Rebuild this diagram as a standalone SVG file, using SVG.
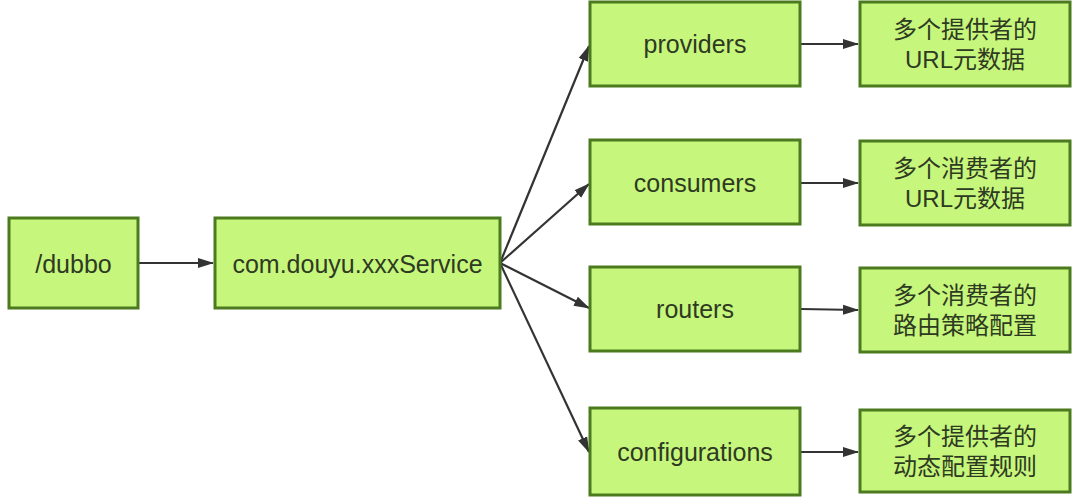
<svg xmlns="http://www.w3.org/2000/svg" width="1080" height="500" viewBox="0 0 1080 500">
<style>
.n rect{fill:#c7f67c;stroke:#4b7a1f;stroke-width:3}
.n text{font-family:"Liberation Sans","Noto Sans CJK SC",sans-serif;font-size:25px;fill:#2e3a22;text-anchor:middle;dominant-baseline:central}
.n text.zh{font-size:24px}
.c path{fill:none;stroke:#333;stroke-width:2.2}
</style>
<defs>
<marker id="ah" viewBox="0 0 16 12" refX="15" refY="6" markerWidth="16" markerHeight="12" markerUnits="userSpaceOnUse" orient="auto">
<path d="M0,1 L16,6 L0,11 z" fill="#333"/>
</marker>
</defs>
<rect width="1080" height="500" fill="#fff"/>
<g class="c">
<path d="M139,263 L213,263" marker-end="url(#ah)"/>
<path d="M500,263 L589,46" marker-end="url(#ah)"/>
<path d="M500,263 L589,184" marker-end="url(#ah)"/>
<path d="M500,263 L589,308" marker-end="url(#ah)"/>
<path d="M500,263 L589,452" marker-end="url(#ah)"/>
<path d="M801,44 L858,44" marker-end="url(#ah)"/>
<path d="M801,183 L858,183" marker-end="url(#ah)"/>
<path d="M801,309 L858,310" marker-end="url(#ah)"/>
<path d="M801,452 L858,452" marker-end="url(#ah)"/>
</g>
<g id="dubbo" class="n"><rect x="9" y="218" width="129" height="90"/><text x="73.5" y="264">/dubbo</text></g>
<g id="service" class="n"><rect x="215" y="218" width="285" height="90"/><text x="357.5" y="264">com.douyu.xxxService</text></g>
<g id="providers" class="n"><rect x="590" y="2" width="210" height="84"/><text x="695" y="44">providers</text></g>
<g id="consumers" class="n"><rect x="590" y="140" width="210" height="84"/><text x="695" y="183">consumers</text></g>
<g id="routers" class="n"><rect x="590" y="267" width="210" height="84"/><text x="695" y="309">routers</text></g>
<g id="configurations" class="n"><rect x="590" y="408" width="210" height="87"/><text x="695" y="452">configurations</text></g>
<g id="providers-desc" class="n"><rect x="860" y="2" width="210" height="84"/><text class="zh" x="965" y="29">多个提供者的</text><text class="zh" x="965" y="59">URL元数据</text></g>
<g id="consumers-desc" class="n"><rect x="860" y="141" width="210" height="84"/><text class="zh" x="965" y="168">多个消费者的</text><text class="zh" x="965" y="198">URL元数据</text></g>
<g id="routers-desc" class="n"><rect x="860" y="268" width="210" height="84"/><text class="zh" x="965" y="295">多个消费者的</text><text class="zh" x="965" y="325">路由策略配置</text></g>
<g id="configurations-desc" class="n"><rect x="860" y="410" width="210" height="82"/><text class="zh" x="965" y="436">多个提供者的</text><text class="zh" x="965" y="466">动态配置规则</text></g>
</svg>
